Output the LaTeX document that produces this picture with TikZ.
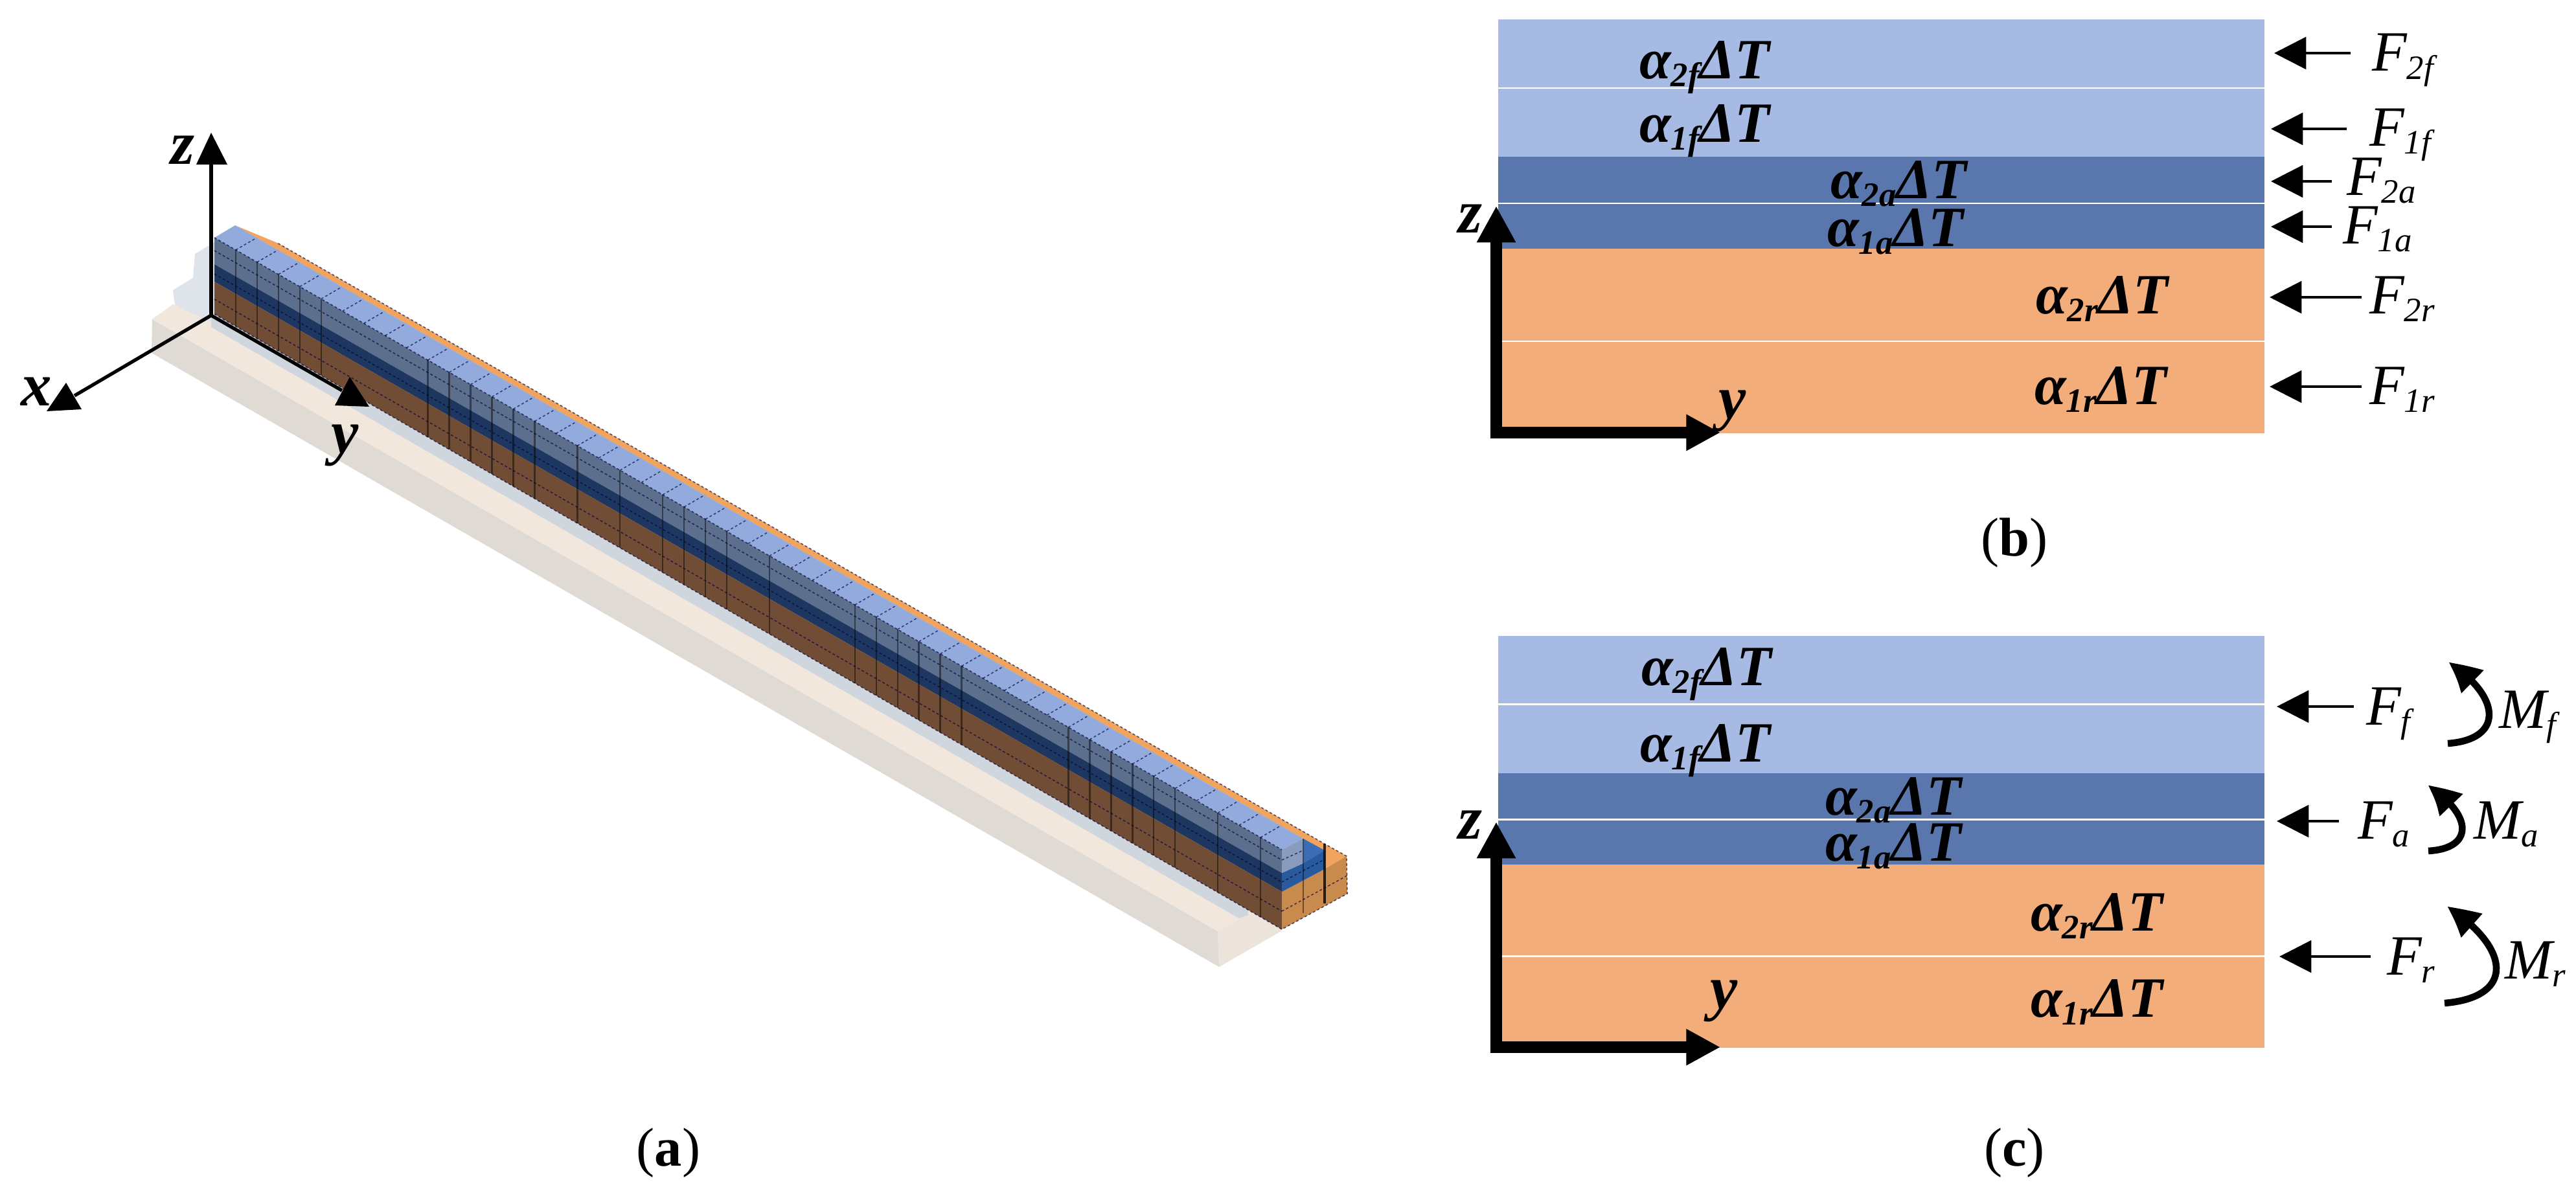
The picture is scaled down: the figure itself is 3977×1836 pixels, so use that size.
\documentclass[tikz,border=0pt]{standalone}
\usepackage{fontspec}
\setmainfont{Liberation Serif}
\usetikzlibrary{arrows.meta,bending}
\definecolor{filmc}{HTML}{A6BAE3}
\definecolor{adhc}{HTML}{5A77AD}
\definecolor{resc}{HTML}{F3AD7B}
\definecolor{sidef}{HTML}{5C6F8C}
\definecolor{sidea}{HTML}{1D3760}
\definecolor{sider}{HTML}{714D36}
\definecolor{topf}{HTML}{93ABDC}
\definecolor{topa}{HTML}{3A6DB5}
\definecolor{topr}{HTML}{F0A45E}
\definecolor{endf}{HTML}{8A9CBE}
\definecolor{enda}{HTML}{2A5A9E}
\definecolor{endr}{HTML}{C98A4E}
\definecolor{gbeige}{HTML}{F1E7DD}
\definecolor{gside}{HTML}{DFDAD4}
\definecolor{gblue}{HTML}{D0D6DE}
\definecolor{gblue2}{HTML}{DFE4EB}
\newcommand{\bigfont}{\fontsize{25}{25}\selectfont}
\newcommand{\subfont}{\fontsize{15}{15}\selectfont}
\newcommand{\alphalab}[1]{{\bigfont\bfseries\itshape α\raisebox{-0.14em}{\subfont #1}ΔT}}
\newcommand{\forcelab}[2]{{\bigfont\itshape #1\raisebox{-0.14em}{\subfont #2}}}
\tikzset{
  txt/.style={anchor=base west,inner sep=0pt,outer sep=0pt},
  axlab/.style={txt,font=\fontsize{27}{27}\selectfont\bfseries\itshape},
  captxt/.style={anchor=base,inner sep=0pt,font=\fontsize{24}{24}\selectfont},
  bigaxis/.style={line width=5pt,{Triangle[length=16pt,width=16pt]}-{Triangle[length=15pt,width=15pt]},miter limit=10},
  force/.style={line width=1.3pt,-{Triangle[length=14pt,width=14pt]}},
  moment/.style={line width=3pt,-{Triangle[length=14pt,width=13pt,bend]}},
  axis3/.style={line width=1.5pt,black},
  gridd/.style={line width=0.45pt,black!75!blue,opacity=.65,dash pattern=on 1.1pt off 1pt},
  gridv/.style={line width=0.7pt,black,opacity=.45},
}
\begin{document}
\begin{tikzpicture}[x=0.01cm,y=-0.01cm]
\useasboundingbox (0,0) rectangle (3977,1836);
\fill[white] (0,0) rectangle (3977,1836);
% ---------- panel (a): ghost
\fill[gblue2] (267,448)--(298,429)--(301,392)--(331,374)--(331,505)--(326,505)--(270,470)--cycle;
\fill[gside] (235,493)--(1880,1438)--(1882,1493)--(234,545)--cycle;
\fill[gbeige] (235,493)--(267,470)--(331,500)--(1979,1437)--(1882,1493)--(1880,1438)--cycle;
\fill[gbeige!70!gside] (1880,1438)--(1979,1385)--(1979,1437)--(1882,1493)--cycle;
\fill[gbeige] (235,493)--(270,470)--(1950,1400)--(1880,1438)--cycle;
\fill[gblue] (326,490)--(331,485)--(1927,1405)--(1927,1413)--(1913,1418)--(326,505)--cycle;
% ---------- beam: top surfaces
\fill[topr] (428,375)--(2045,1303)--(2079,1322)--(2045,1342)--(2012,1333)--(2012,1295)--(363,348)--cycle;
\fill[topf] (331,367)--(363,348)--(2012,1295)--(1979,1312)--cycle;
% side layers
\fill[sidef] (331,367)--(1979,1312)--(1979,1348)--(331,408)--cycle;
\fill[sidea] (331,408)--(1979,1348)--(1979,1377)--(331,435)--cycle;
\fill[sider] (331,435)--(1979,1377)--(1979,1435)--(331,485)--cycle;
% end face
\fill[endr] (1979,1377)--(2045,1342)--(2079,1322)--(2080,1380)--(1979,1435)--cycle;
\fill[enda] (1979,1348)--(2012,1333)--(2045,1313)--(2045,1342)--(1979,1377)--cycle;
\fill[topa] (2012,1295)--(2045,1313)--(2012,1333)--cycle;
\fill[endf] (1979,1312)--(2012,1295)--(2012,1333)--(1979,1348)--cycle;
% grid on top
\foreach \k in {1,...,49}{
  \pgfmathsetmacro{\xx}{331+32.96*\k}
  \pgfmathsetmacro{\yy}{367+18.9*\k}
  \draw[gridd] (\xx,\yy)--({\xx+32},{\yy-18.5});
}
% mid lines on the side
\draw[gridd] (331,387)--(1979,1328);
\draw[gridd] (331,423)--(1979,1362);
\draw[gridd] (331,462)--(1979,1407);
\draw[gridd] (331,367)--(1979,1312);
\draw[gridd] (331,485)--(1979,1435)--(2080,1380)--(2079,1322)--(2045,1303)--(428,375);
\draw[gridd] (1979,1328)--(2012,1313);
\draw[gridd] (1979,1362)--(2045,1327);
\draw[gridd] (1979,1407)--(2080,1352);
% verticals
\foreach \k in {1,2,3,4,5,10,11,12,13,14,15,17,19,21,22,23,24,26,30,31,32,33,34,35,40,41,42,43,44,45,47,49}{
  \pgfmathsetmacro{\xx}{331+32.96*\k}
  \pgfmathsetmacro{\yy}{367+18.9*\k}
  \pgfmathsetmacro{\yb}{485+19*\k}
  \draw[gridv] (\xx,\yy)--(\xx,\yb);
}
\draw[gridv] (2012,1295)--(2012,1410);
\draw[gridv,opacity=.8,line width=1pt] (2045,1303)--(2045,1395);
% ---------- axes (a)
\coordinate (o3) at (326,487);
\coordinate (z3) at (326,254);
\coordinate (x3) at (115,611);
\coordinate (y3) at (528,603);
\draw[axis3] (o3)--(z3);
\draw[axis3] (o3)--(x3);
\draw[axis3] (o3)--(y3);
\fill (326,205)--(351,254)--(303,254)--cycle;
\fill (102,591)--(126,632)--(72,635)--cycle;
\fill (540,582)--(570,628)--(517,626)--cycle;
\node[axlab] (zl3) at (263,253) {z};
\node[axlab] (xl3) at (32,626) {x};
\node[axlab] (yl3) at (511,699) {y};
\node[captxt] (capa) at (1032,1800) {(\textbf{a})};
% ---------- panel (b)
\fill[filmc] (2313,30) rectangle (3496,134.5);
\fill[filmc] (2313,137) rectangle (3496,242);
\fill[adhc] (2313,242) rectangle (3496,313);
\fill[adhc] (2313,315) rectangle (3496,384);
\fill[resc] (2313,384) rectangle (3496,525.5);
\fill[resc] (2313,528) rectangle (3496,669);
\coordinate (bz) at (2310,318);
\coordinate (bo) at (2310,668);
\coordinate (by) at (2656,668);
\draw[bigaxis] (bz)--(bo)--(by);
\node[axlab] (bzl) at (2251,359) {z};
\node[axlab] (byl) at (2653,646) {y};
\node[txt] (b1) at (2531,121) {\alphalab{2f}};
\node[txt] (b2) at (2531,219) {\alphalab{1f}};
\node[txt] (b3) at (2826,306) {\alphalab{2a}};
\node[txt] (b4) at (2821,380) {\alphalab{1a}};
\node[txt] (b5) at (3143,484) {\alphalab{2r}};
\node[txt] (b6) at (3141,624) {\alphalab{1r}};
\coordinate (fa1) at (3629,82);  \coordinate (ft1) at (3511,82);
\coordinate (fa2) at (3623,199); \coordinate (ft2) at (3506,199);
\coordinate (fa3) at (3600,280); \coordinate (ft3) at (3506,280);
\coordinate (fa4) at (3600,350); \coordinate (ft4) at (3506,350);
\coordinate (fa5) at (3646,459); \coordinate (ft5) at (3504,459);
\coordinate (fa6) at (3646,597); \coordinate (ft6) at (3504,597);
\foreach \i in {1,...,6}{\draw[force] (fa\i)--(ft\i);}
\node[txt] (bf1) at (3662,110) {\forcelab{F}{2f}};
\node[txt] (bf2) at (3658,225) {\forcelab{F}{1f}};
\node[txt] (bf3) at (3623,301) {\forcelab{F}{2a}};
\node[txt] (bf4) at (3617,376) {\forcelab{F}{1a}};
\node[txt] (bf5) at (3658,484) {\forcelab{F}{2r}};
\node[txt] (bf6) at (3658,624) {\forcelab{F}{1r}};
\node[captxt] (capb) at (3110,858) {(\textbf{b})};
% ---------- panel (c)
\fill[filmc] (2313,982) rectangle (3496,1086);
\fill[filmc] (2313,1089) rectangle (3496,1194);
\fill[adhc] (2313,1194) rectangle (3496,1264);
\fill[adhc] (2313,1267) rectangle (3496,1335);
\fill[resc] (2313,1335) rectangle (3496,1475);
\fill[resc] (2313,1478) rectangle (3496,1618);
\coordinate (cz) at (2310,1269);
\coordinate (co) at (2310,1617);
\coordinate (cy) at (2656,1617);
\draw[bigaxis] (cz)--(co)--(cy);
\node[axlab] (czl) at (2251,1295) {z};
\node[axlab] (cyl) at (2640,1557) {y};
\node[txt] (c1) at (2534,1058) {\alphalab{2f}};
\node[txt] (c2) at (2532,1176) {\alphalab{1f}};
\node[txt] (c3) at (2818,1258) {\alphalab{2a}};
\node[txt] (c4) at (2818,1329) {\alphalab{1a}};
\node[txt] (c5) at (3135,1437) {\alphalab{2r}};
\node[txt] (c6) at (3135,1570) {\alphalab{1r}};
\coordinate (ga1) at (3634,1091); \coordinate (gt1) at (3515,1091);
\coordinate (ga2) at (3611,1268); \coordinate (gt2) at (3515,1268);
\coordinate (ga3) at (3660,1477); \coordinate (gt3) at (3519,1477);
\foreach \i in {1,2,3}{\draw[force] (ga\i)--(gt\i);}
\node[txt] (cf1) at (3653,1119) {\forcelab{F}{f}};
\node[txt] (cf2) at (3640,1295) {\forcelab{F}{a}};
\node[txt] (cf3) at (3685,1505) {\forcelab{F}{r}};
\coordinate (ma1) at (3779,1148); \coordinate (mb1) at (3780,1023);
\coordinate (ma2) at (3749,1314); \coordinate (mb2) at (3748,1213);
\coordinate (ma3) at (3774,1549); \coordinate (mb3) at (3778,1400);
\draw[moment] (ma1) .. controls (3866,1142) and (3862,1075) .. (mb1);
\draw[moment] (ma2) .. controls (3820,1310) and (3818,1258) .. (mb2);
\draw[moment] (ma3) .. controls (3882,1540) and (3878,1465) .. (mb3);
\node[txt] (m1) at (3858,1124) {\forcelab{M}{f}};
\node[txt] (m2) at (3819,1295) {\forcelab{M}{a}};
\node[txt] (m3) at (3867,1511) {\forcelab{M}{r}};
\node[captxt] (capc) at (3110,1800) {(\textbf{c})};
\end{tikzpicture}
\end{document}
